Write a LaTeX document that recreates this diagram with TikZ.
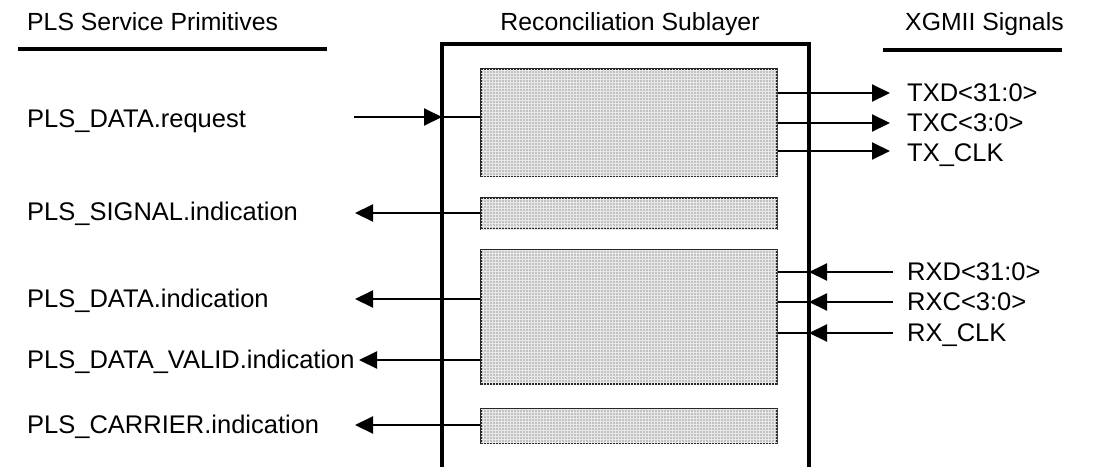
\documentclass[tikz,border=0pt]{standalone}
\usepackage{fontspec}
\setmainfont{Liberation Sans}
\usetikzlibrary{arrows.meta,patterns}
\begin{document}
\begin{tikzpicture}[x=1pt,y=-1pt,
  lbl/.style={font=\fontsize{25.5}{28}\selectfont, inner sep=0pt, anchor=base west},
  hlbl/.style={font=\fontsize{24.8}{28}\selectfont, inner sep=0pt, anchor=base west},
  hdr/.style={font=\fontsize{24.8}{28}\selectfont, inner sep=0pt, anchor=base},
  ibox/.style={draw=black!85, line width=2.2pt, fill=black!24,
    postaction={pattern=grid, pattern color=black!9},
    anchor=north west, inner sep=0pt, minimum width=296pt},
  arr/.style={line width=2pt, -{Triangle[length=18pt,width=17pt]}},
  wire/.style={line width=2pt},
  frame/.style={line width=3.5pt},
]
\useasboundingbox[fill=white] (0,0) rectangle (1102,466);

% headers
\node[hlbl] (h1) at (27,30) {PLS Service Primitives};
\node[hdr] (h2) at (630,30) {Reconciliation Sublayer};
\node[hlbl] (h3) at (905,30) {XGMII Signals};
\coordinate (u1a) at (18,49); \coordinate (u1b) at (327,49);
\coordinate (u3a) at (883,50); \coordinate (u3b) at (1062,50);
\draw[frame] (u1a) -- (u1b);
\draw[frame] (u3a) -- (u3b);

% outer frame (open at the bottom)
\coordinate (fbl) at (442,470); \coordinate (ftl) at (442,44);
\coordinate (ftr) at (809,44); \coordinate (fbr) at (809,470);
\draw[frame] (fbl) -- (ftl) -- (ftr) -- (fbr);

% inner boxes
\node[ibox, minimum height=107pt] (tx) at (480,68) {};
\node[ibox, minimum height=31pt]  (sg) at (480,197) {};
\node[ibox, minimum height=134pt] (rx) at (480,249) {};
\node[ibox, minimum height=34pt]  (cr) at (480,408) {};

% left side
\node[lbl] (req)  at (27,127) {PLS\_DATA.request};
\node[lbl] (sig)  at (27,220) {PLS\_SIGNAL.indication};
\node[lbl] (dind) at (27,307) {PLS\_DATA.indication};
\node[lbl] (dval) at (27,368) {PLS\_DATA\_VALID.indication};
\node[lbl] (car)  at (27,433) {PLS\_CARRIER.indication};

\coordinate (reqs) at (354,117);
\draw[arr] (reqs) -- (reqs -| ftl);
\draw[wire] (reqs -| ftl) -- (reqs -| tx.west);

\coordinate (t1) at (355,213);
\coordinate (t2) at (355,299);
\coordinate (t3) at (359,360);
\coordinate (t4) at (355,425);
\draw[arr] (t1 -| sg.west) -- (t1);
\draw[arr] (t2 -| rx.west) -- (t2);
\draw[arr] (t3 -| rx.west) -- (t3);
\draw[arr] (t4 -| cr.west) -- (t4);

% right side, transmit
\coordinate (o1) at (890,93);
\coordinate (o2) at (890,123);
\coordinate (o3) at (890,151);
\draw[arr] (o1 -| tx.east) -- (o1);
\draw[arr] (o2 -| tx.east) -- (o2);
\draw[arr] (o3 -| tx.east) -- (o3);
\node[lbl] (txd) at (907,101) {TXD<31:0>};
\node[lbl] (txc) at (907,131) {TXC<3:0>};
\node[lbl] (txk) at (907,161) {TX\_CLK};

% right side, receive
\coordinate (i1) at (893,272);
\coordinate (i2) at (893,302);
\coordinate (i3) at (893,333);
\draw[arr] (i1) -- (i1 -| ftr);
\draw[arr] (i2) -- (i2 -| ftr);
\draw[arr] (i3) -- (i3 -| ftr);
\draw[wire] (i1 -| ftr) -- (i1 -| rx.east);
\draw[wire] (i2 -| ftr) -- (i2 -| rx.east);
\draw[wire] (i3 -| ftr) -- (i3 -| rx.east);
\node[lbl] (rxd) at (907,280) {RXD<31:0>};
\node[lbl] (rxc) at (907,310) {RXC<3:0>};
\node[lbl] (rxk) at (907,341) {RX\_CLK};
\end{tikzpicture}
\end{document}
